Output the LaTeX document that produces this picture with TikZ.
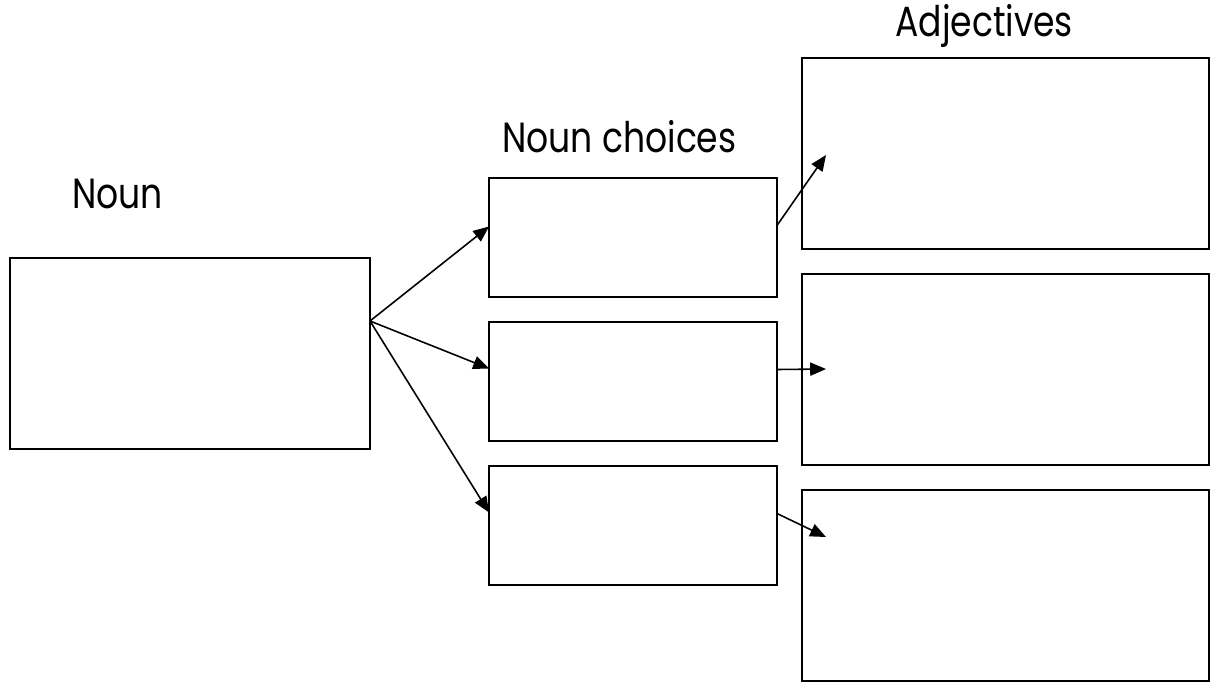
\documentclass[tikz,border=0pt]{standalone}
\usepackage{fontspec}
\setmainfont{Poppins}[FakeStretch=0.82]
\usetikzlibrary{arrows.meta,calc}

\begin{document}
\begin{tikzpicture}[x=0.02cm,y=-0.02cm,
  box/.style={draw,line width=1.2pt,inner sep=0pt,outer sep=0pt},
  nounbox/.style={box,minimum width=7.2cm,minimum height=3.82cm},
  choicebox/.style={box,minimum width=5.76cm,minimum height=2.38cm},
  adjbox/.style={box,minimum width=8.14cm,minimum height=3.82cm},
  title/.style={anchor=base west,inner sep=0pt,font=\fontsize{24}{28}\selectfont},
  link/.style={-{Triangle[length=9pt,width=7.5pt]},line width=0.9pt}]
\useasboundingbox (0,0) rectangle (1213,683);

% boxes
\node [nounbox] (noun) at (190,353.5) {};
\node [choicebox] (choice1) at (633,237.5) {};
\node [choicebox] (choice2) at (633,381.5) {};
\node [choicebox] (choice3) at (633,525.5) {};
\node [adjbox] (adj1) at (1005.5,153.5) {};
\node [adjbox] (adj2) at (1005.5,369.5) {};
\node [adjbox] (adj3) at (1005.5,585.5) {};

% titles
\node [title] (nountitle) at (72,208) {Noun};
\node [title] (choicetitle) at (502,152) {Noun choices};
\node [title] (adjtitle) at (895,36) {Adjectives};

% arrows from the noun
\coordinate (fan) at (370,321);
\draw [link] (fan) to ($(choice1.west)+(0,-11)$);
\draw [link] (fan) to ($(choice2.west)+(0,-13)$);
\draw [link] (fan) to ($(choice3.west)+(0,-13)$);

% arrows to the adjectives
\coordinate (tip1) at (826,155);
\coordinate (tip2) at (826,369);
\coordinate (tip3) at (826,537);
\draw [link] ($(choice1.east)+(0,-12)$) to (tip1);
\draw [link] ($(choice2.east)+(0,-12)$) to (tip2);
\draw [link] ($(choice3.east)+(0,-12)$) to (tip3);

\end{tikzpicture}
\end{document}
